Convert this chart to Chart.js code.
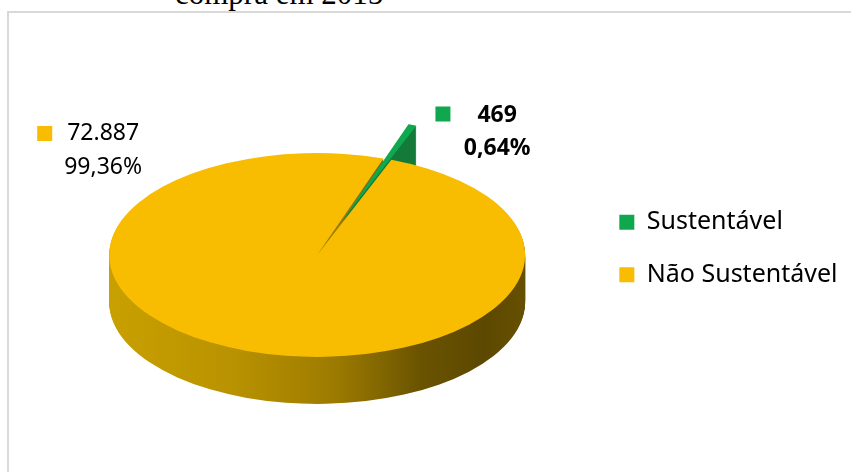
<!DOCTYPE html>
<html>
<head>
<meta charset="utf-8">
<script src="https://cdn.jsdelivr.net/npm/chart.js@4.4.0/dist/chart.umd.min.js"></script>
<style>
  html, body { margin: 0; padding: 0; background: #fff; overflow: hidden; }
  body { width: 851px; height: 472px; position: relative; }
  #frame { position: absolute; left: 7px; top: 11px; width: 900px; height: 500px;
           border-left: 2px solid #d9d9d9; border-top: 2px solid #d9d9d9; }
  #title { position: absolute; left: 175px; top: -22px; font: 31px/31px "Liberation Serif", serif;
           color: #000; white-space: nowrap; }
  #chart { position: absolute; left: 0; top: 0; }
</style>
</head>
<body>
<div id="frame"></div>
<div id="title">compra em 2015</div>
<canvas id="chart" width="851" height="472"></canvas>
<script>
// data
const categories = ['Sustentável', 'Não Sustentável'];
const values = [469, 72887];
const colors = ['#10a84e', '#f8bc00'];
const sideColors = ['#137a3a'];

const total = values.reduce((a, b) => a + b, 0);
const valueLabels = values.map(v => String(v).replace(/\B(?=(\d{3})+(?!\d))/g, '.'));
const percentLabels = values.map(v => (v / total * 100).toFixed(2).replace('.', ',') + '%');

// fake 3d: squash the pie and stack copies of it underneath for the side wall.
// slices are pulled out here (chart.js' own offset thins tiny slices)
const pie3d = {
  id: 'pie3d',
  beforeDatasetsDraw(chart, args, opts) {
    const ctx = chart.ctx;
    const arcs = chart.getDatasetMeta(0).data;
    if (!arcs.length) return;
    const cx = arcs[0].x, cy = arcs[0].y, r = arcs[0].outerRadius;
    const side = ctx.createLinearGradient(cx - r, 0, cx + r, 0);
    opts.sideStops.forEach(s => side.addColorStop(s[0], s[1]));
    const sideFill = [sideColors[0], side];

    const paint = (dy, fills) => {
      arcs.forEach((arc, i) => {
        const mid = (arc.startAngle + arc.endAngle) / 2;
        const e = opts.explode[i] || 0;
        ctx.save();
        ctx.translate(cx, cy + dy);
        ctx.scale(1, opts.tilt);
        ctx.translate(-cx + Math.cos(mid) * e, -cy + Math.sin(mid) * e);
        const saved = arc.options;
        arc.options = Object.assign({}, saved, { backgroundColor: fills ? fills[i] : saved.backgroundColor });
        arc.draw(ctx);
        arc.options = saved;
        ctx.restore();
      });
    };
    for (let d = opts.depth; d > 0; d--) paint(d, sideFill);
    paint(0, null);
    return false;
  }
};

// data labels with a colour key, like excel's
const pieLabels = {
  id: 'pieLabels',
  afterDraw(chart, args, opts) {
    const ctx = chart.ctx;
    const arcs = chart.getDatasetMeta(0).data;
    if (!arcs.length) return;
    const cx = arcs[0].x, cy = arcs[0].y;
    ctx.save();
    ctx.textAlign = 'center';
    ctx.textBaseline = 'middle';
    arcs.forEach((arc, i) => {
      const p = opts.positions[i];
      const x = cx + p.dx, y = cy + p.dy;
      ctx.font = (p.bold ? 'bold ' : '') + opts.size + 'px "Noto Sans"';
      ctx.fillStyle = '#000';
      ctx.fillText(valueLabels[i], x, y);
      ctx.fillText(percentLabels[i], x, y + opts.lineGap);
      const w = ctx.measureText(valueLabels[i]).width;
      ctx.fillStyle = colors[i];
      ctx.fillRect(x - w / 2 - p.keyGap - opts.key, y - opts.key / 2 + p.keyDy, opts.key, opts.key);
    });
    ctx.restore();
  }
};

new Chart(document.getElementById('chart'), {
  type: 'pie',
  data: {
    labels: categories,
    datasets: [{
      data: values,
      backgroundColor: colors,
      borderWidth: 0,
      radius: 208
    }]
  },
  options: {
    responsive: false,
    devicePixelRatio: 1,
    animation: false,
    events: [],
    rotation: 18.6,
    layout: { padding: { left: 42.5, right: 3.5, top: 25, bottom: 0 } },
    plugins: {
      title: { display: true, text: ' ', fullSize: false, font: { size: 6, lineHeight: 1 }, padding: 3.5 },
      legend: {
        position: 'right',
        labels: {
          boxWidth: 15,
          boxHeight: 15,
          padding: 27.5,
          color: '#000',
          font: { family: '"Noto Sans"', size: 25 }
        }
      },
      tooltip: { enabled: false },
      pie3d: {
        tilt: 0.49,
        depth: 47,
        explode: [74, 0],
        sideStops: [[0, '#c9a000'], [0.3, '#b99200'], [0.55, '#9b7a00'], [0.75, '#6a5300'], [0.9, '#5c4800'], [1, '#665000']]
      },
      pieLabels: {
        size: 23,
        lineGap: 33.5,
        key: 15,
        positions: [
          { dx: 180, dy: -140, bold: true, keyGap: 27, keyDy: -1 },
          { dx: -214, dy: -121.5, bold: false, keyGap: 15, keyDy: 0 }
        ]
      }
    }
  },
  plugins: [pie3d, pieLabels]
});
</script>
</body>
</html>
